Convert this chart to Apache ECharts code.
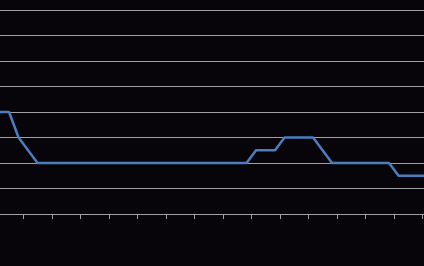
<!DOCTYPE html>
<html>
<head>
<meta charset="utf-8">
<script src="https://cdn.jsdelivr.net/npm/echarts@6/dist/echarts.min.js"></script>
<style>
  html, body { margin: 0; padding: 0; background: #070509; }
  #chart { width: 424px; height: 266px; }
</style>
</head>
<body>
<div id="chart"></div>
<script>
// Periods (no labels are visible in the reference; one placeholder per point)
const categories = [
  'P01','P02','P03','P04','P05','P06','P07','P08','P09','P10',
  'P11','P12','P13','P14','P15','P16','P17','P18','P19','P20',
  'P21','P22','P23','P24','P25','P26','P27','P28','P29','P30',
  'P31','P32','P33','P34','P35','P36','P37','P38','P39','P40',
  'P41','P42','P43','P44','P45','P46'
];
// Series values
const values = [
  4, 4, 3, 2.5, 2, 2, 2, 2, 2, 2,
  2, 2, 2, 2, 2, 2, 2, 2, 2, 2,
  2, 2, 2, 2, 2, 2, 2, 2.5, 2.5, 2.5,
  3, 3, 3, 3, 2.5, 2, 2, 2, 2, 2,
  2, 2, 1.5, 1.5, 1.5, 1.5
];
// Value axis range
const yMin = 0;
const yMax = 8;
const yStep = 1;

const chart = echarts.init(document.getElementById('chart'), null, { renderer: 'canvas' });
chart.setOption({
  backgroundColor: '#070509',
  animation: false,
  grid: {
    left: -5.2, top: 10, width: 437, height: 204,
    containLabel: false,
    outerBoundsMode: 'none'
  },
  xAxis: {
    type: 'category',
    data: categories,
    boundaryGap: true,
    axisLine: { show: true, lineStyle: { color: '#a0a0a0', width: 1 } },
    axisTick: { show: true, interval: 2, length: 5, lineStyle: { color: '#a0a0a0', width: 1 } },
    axisLabel: { show: false },
    splitLine: { show: false }
  },
  yAxis: {
    type: 'value',
    min: yMin,
    max: yMax,
    interval: yStep,
    axisLine: { show: false },
    axisTick: { show: false },
    axisLabel: { show: false },
    splitLine: { show: true, lineStyle: { color: '#a0a0a0', width: 1 } }
  },
  series: [{
    type: 'line',
    data: values,
    showSymbol: false,
    symbol: 'none',
    lineStyle: { color: '#4a7ebf', width: 2.5 },
    itemStyle: { color: '#4a7ebf' }
  }]
});
</script>
</body>
</html>
